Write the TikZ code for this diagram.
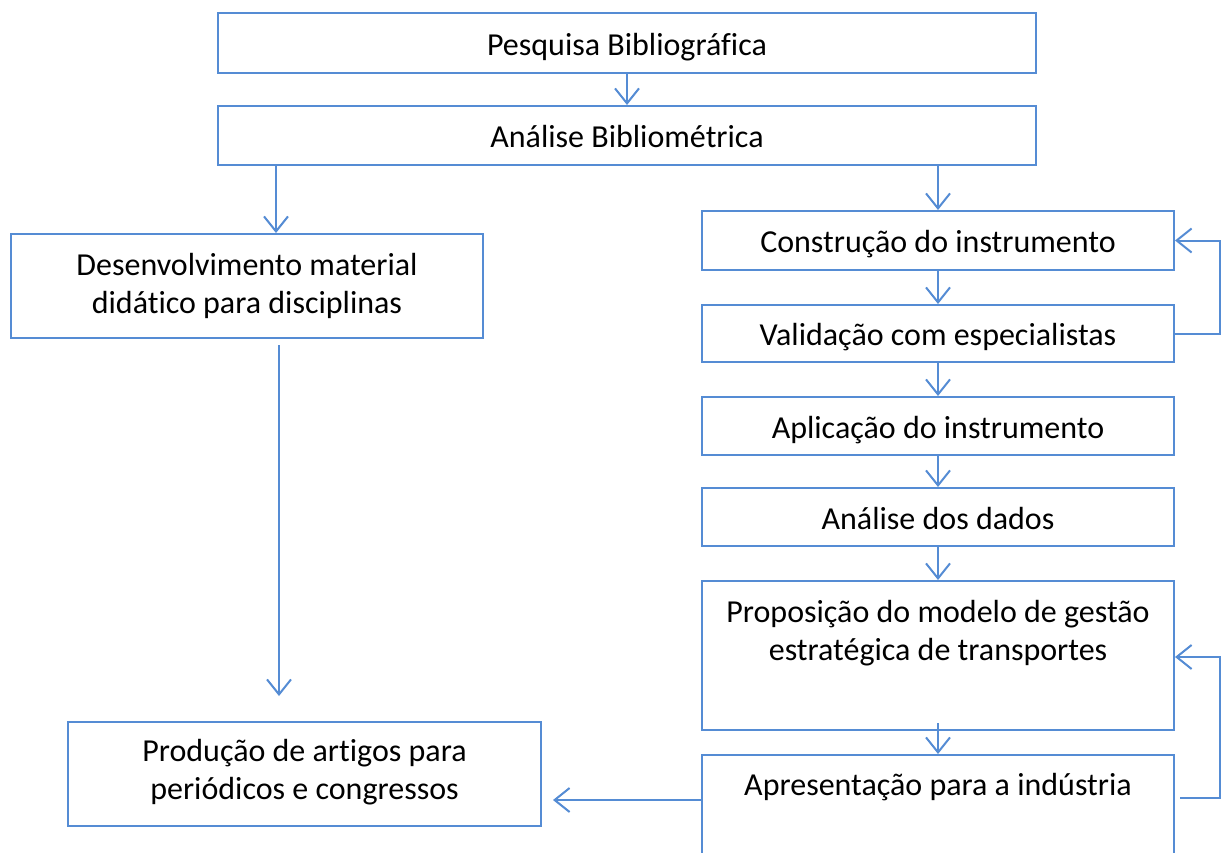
\documentclass[tikz,border=0pt]{standalone}
\usepackage{fontspec}
\setmainfont{Carlito}[Ligatures=NoCommon]
\usetikzlibrary{arrows.meta}
\definecolor{lineblue}{RGB}{85,140,212}
\begin{document}
\begin{tikzpicture}[x=1pt,y=-1pt,
  boxfont/.style={font=\fontsize{32}{38}\selectfont},
  box/.style={draw=lineblue,line width=2pt,rectangle,inner sep=0pt,align=center,boxfont,text height=24pt,text depth=0pt},
  txt/.style={boxfont,align=center,anchor=north,inner sep=0pt,text height=24pt,text depth=0pt},
  txttwo/.style={txt,text height=62pt},
  conn/.style={draw=lineblue,line width=2pt,-{Straight Barb[length=15pt,width=24pt,line width=2pt]}}]
\clip (0,0) rectangle (1221,852);
\fill[white] (0,0) rectangle (1221,852);
% boxes
\node[box,minimum width=818pt,minimum height=60pt] (pb) at (627,43) {Pesquisa Bibliográfica};
\node[box,minimum width=818pt,minimum height=59pt] (ab) at (627,135.5) {Análise Bibliométrica};
\node[box,minimum width=472pt,minimum height=104pt] (dm) at (247,286) {};
\node[box,minimum width=472pt,minimum height=59pt] (ci) at (938,240.5) {Construção do instrumento};
\node[box,minimum width=472pt,minimum height=57pt] (ve) at (938,333.5) {Validação com especialistas};
\node[box,minimum width=472pt,minimum height=58pt] (ai) at (938,426) {Aplicação do instrumento};
\node[box,minimum width=472pt,minimum height=58pt] (ad) at (938,517) {Análise dos dados};
\node[box,minimum width=472pt,minimum height=149pt] (pm) at (938,655.5) {};
\node[box,minimum width=472pt,minimum height=150pt] (ap) at (938,830) {};
\node[box,minimum width=473pt,minimum height=104pt] (pa) at (304.5,773.5) {};
% texts placed from the box tops
\node[txttwo] (dmt) at ([yshift=-18pt]dm.north) {Desenvolvimento material\\didático para disciplinas};
\node[txttwo] (pat) at ([yshift=-17pt]pa.north) {Produção de artigos para\\periódicos e congressos};
\node[txttwo] (pmt) at ([yshift=-18pt]pm.north) {Proposição do modelo de gestão\\estratégica de transportes};
\node[txt] (apt) at ([yshift=-17pt]ap.north) {Apresentação para a indústria};
% connectors
\draw[conn] (pb.south) -- (ab.north);
\draw[conn] (ab.south -| 276,0) -- (dm.north -| 276,0);
\draw[conn] (ab.south -| ci.north) -- (ci.north);
\draw[conn] (ci.south) -- (ve.north);
\draw[conn] (ve.south) -- (ai.north);
\draw[conn] (ai.south) -- (ad.north);
\draw[conn] (ad.south) -- (pm.north);
\draw[conn] ([yshift=8pt]pm.south) -- (ap.north);
\coordinate (d1) at (279,345);
\coordinate (d2) at (279,696);
\draw[conn] (d1) -- (d2);
\coordinate (p2) at (553,800);
\draw[conn] (ap.west |- p2) -- (p2);
\draw[conn] (ve.east) -- (1220,333.5) -- (1220,240.5) -- (ci.east);
\coordinate (l2) at (1180,798);
\draw[conn] (l2) -- (1220,798) -- (1220,657) -- (pm.east |- 0,657);
\end{tikzpicture}
\end{document}
